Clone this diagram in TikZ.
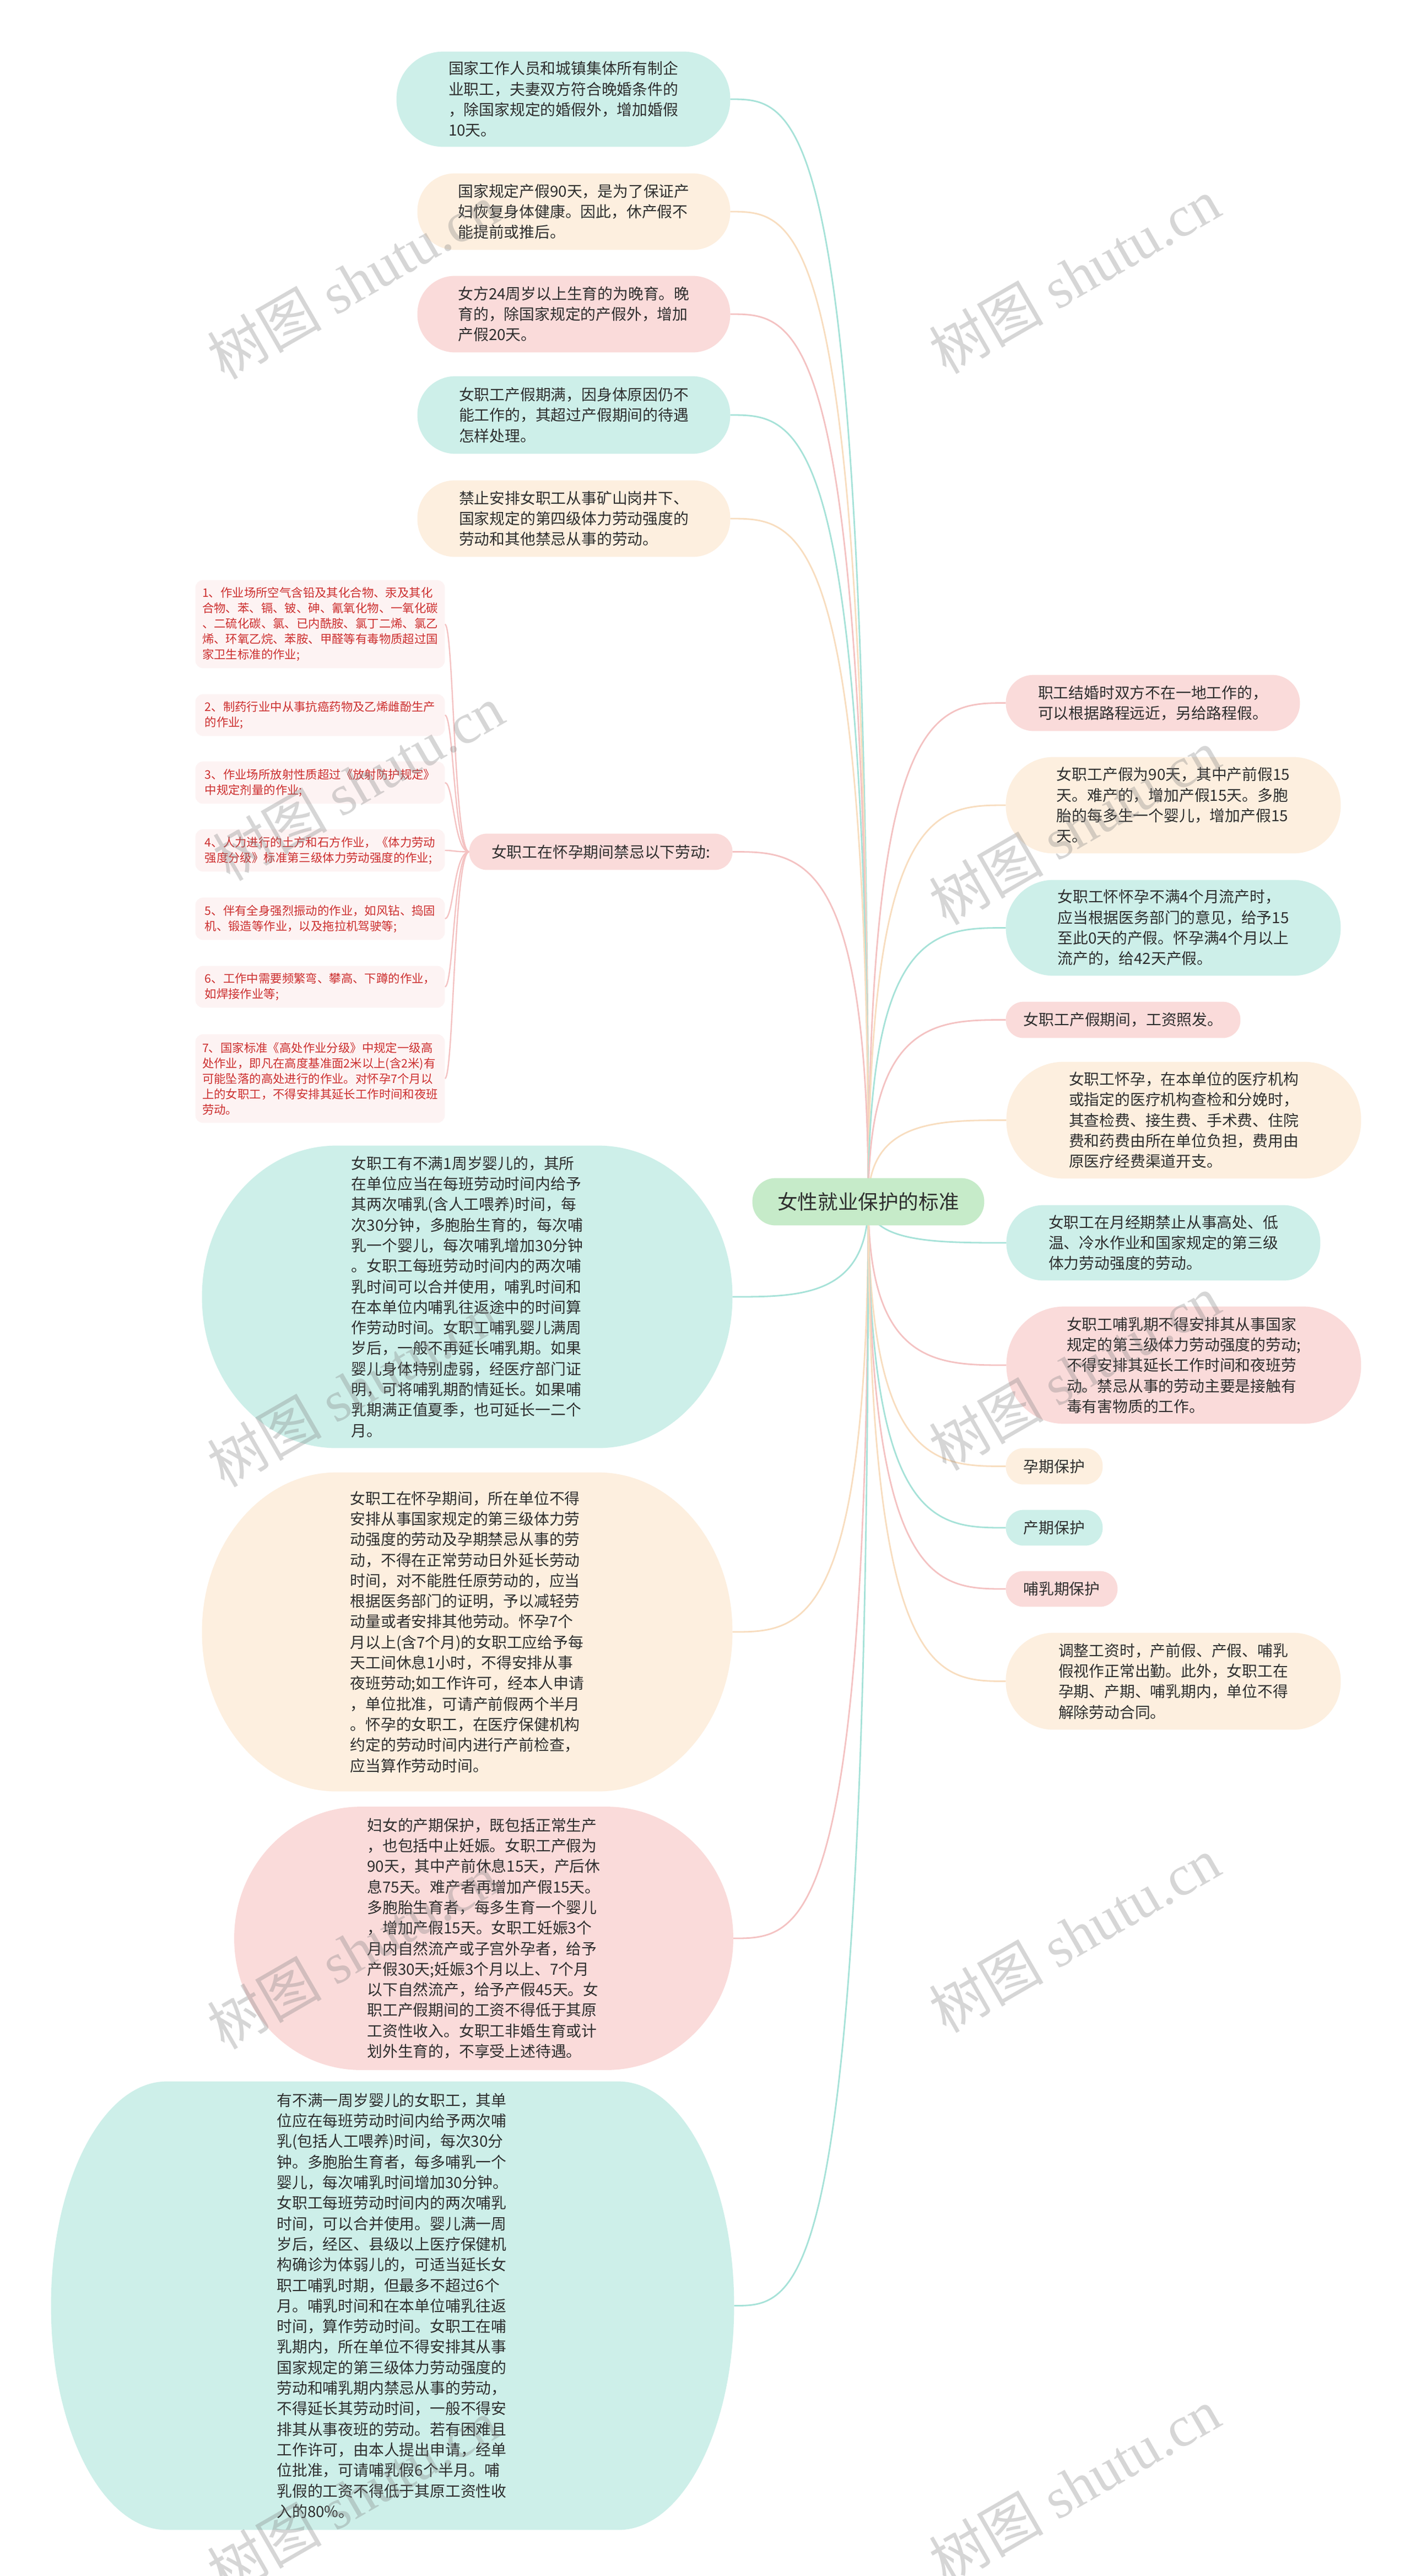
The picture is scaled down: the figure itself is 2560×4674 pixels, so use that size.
\documentclass[tikz,border=0pt]{standalone}
\usepackage{fontspec}
\setmainfont{Liberation Serif}
\newfontfamily\cjk{Noto Sans CJK SC}
\newfontfamily\wmlat{Liberation Serif}
\usetikzlibrary{calc,backgrounds}
\definecolor{tealF}{HTML}{CDEFE9}
\definecolor{creamF}{HTML}{FDEFDF}
\definecolor{pinkF}{HTML}{FADBDA}
\definecolor{rootF}{HTML}{C6EBC9}
\definecolor{itemF}{HTML}{FDF3F3}
\definecolor{tealL}{HTML}{A6E2D8}
\definecolor{creamL}{HTML}{F8DDBF}
\definecolor{pinkL}{HTML}{F4C2C2}
\definecolor{txt}{HTML}{2E2E2E}
\definecolor{redT}{HTML}{CC2E2E}
\tikzset{
  tx/.style={inner sep=0pt, align=left, text=txt, font=\cjk\fontsize{13.9pt}{18.65pt}\selectfont},
  lt/.style={inner sep=0pt, align=left, text=redT, font=\cjk\fontsize{10.7pt}{14pt}\selectfont},
  roottx/.style={inner sep=0pt, align=center, text=txt, font=\cjk\fontsize{18.3pt}{22pt}\selectfont},
  link/.style={line width=1.4pt},
  wm/.style={inner sep=0pt, text=black!50, opacity=0.32, rotate=30, font=\fontsize{52pt}{52pt}\selectfont}
}
\newcommand\ebg[4]{\fill[#2] ($(#1.north west)+(#3,0pt)$) -- ($(#1.north east)+(-#3,0pt)$) arc[start angle=90,end angle=0,x radius=#3,y radius=#4] -- ($(#1.south east)+(0pt,#4)$) arc[start angle=0,end angle=-90,x radius=#3,y radius=#4] -- ($(#1.south west)+(#3,0pt)$) arc[start angle=-90,end angle=-180,x radius=#3,y radius=#4] -- ($(#1.north west)+(0pt,-#4)$) arc[start angle=180,end angle=90,x radius=#3,y radius=#4] -- cycle;}
\newcommand\mmlink[3]{\draw[link,draw=#1] (#2) .. controls (#2 |- #3) and ($(#2 |- #3)!0.5!(#3)$) .. (#3);}
\newcommand\sublink[2]{\draw[link,draw=pinkL,line width=1.2pt] (#1) .. controls ($(#1)+(-28,0)$) and ($(#1 |- #2)+(-28,0)$) .. (#2);}
\begin{document}
\begin{tikzpicture}[x=0.5pt,y=-0.5pt]
\useasboundingbox (0,0) rectangle (2560,4674);
% root
\node[roottx, minimum width=210pt, minimum height=42.5pt] (root) at (1576,2180.5) {女性就业保护的标准};
% top-left nodes
\node[tx, minimum width=302.5pt, minimum height=86pt] (T1) at (1022.5,180) {国家工作人员和城镇集体所有制企\\业职工，夫妻双方符合晚婚条件的\\，除国家规定的婚假外，增加婚假\\10天。};
\node[tx, minimum width=283.5pt, minimum height=69pt] (T2) at (1041.5,384) {国家规定产假90天，是为了保证产\\妇恢复身体健康。因此，休产假不\\能提前或推后。};
\node[tx, minimum width=283.5pt, minimum height=69pt] (T3) at (1041.5,570) {女方24周岁以上生育的为晚育。晚\\育的，除国家规定的产假外，增加\\产假20天。};
\node[tx, minimum width=283.5pt, minimum height=70pt] (T4) at (1041.5,753) {女职工产假期满，因身体原因仍不\\能工作的，其超过产假期间的待遇\\怎样处理。};
\node[tx, minimum width=283.5pt, minimum height=69pt] (T5) at (1041.5,941) {禁止安排女职工从事矿山岗井下、\\国家规定的第四级体力劳动强度的\\劳动和其他禁忌从事的劳动。};
% list parent and items
\node[tx, minimum width=238.5pt, minimum height=32.5pt] (P) at (1090.5,1545.5) {女职工在怀孕期间禁忌以下劳动:};
\node[lt, minimum width=226pt, minimum height=79.5pt] (I1) at (581,1132.5) {1、作业场所空气含铅及其化合物、汞及其化\\合物、苯、镉、铍、砷、氰氧化物、一氧化碳\\、二硫化碳、氯、已内酰胺、氯丁二烯、氯乙\\烯、环氧乙烷、苯胺、甲醛等有毒物质超过国\\家卫生标准的作业;};
\node[lt, minimum width=226pt, minimum height=37.5pt] (I2) at (581,1297.5) {2、制药行业中从事抗癌药物及乙烯雌酚生产\\的作业;};
\node[lt, minimum width=226pt, minimum height=38pt] (I3) at (581,1420) {3、作业场所放射性质超过《放射防护规定》\\中规定剂量的作业;};
\node[lt, minimum width=226pt, minimum height=38pt] (I4) at (581,1543) {4、人力进行的土方和石方作业，《体力劳动\\强度分级》标准第三级体力劳动强度的作业;};
\node[lt, minimum width=226pt, minimum height=38pt] (I5) at (581,1667) {5、伴有全身强烈振动的作业，如风钻、捣固\\机、锻造等作业，以及拖拉机驾驶等;};
\node[lt, minimum width=226pt, minimum height=37.5pt] (I6) at (581,1790.5) {6、工作中需要频繁弯、攀高、下蹲的作业，\\如焊接作业等;};
\node[lt, minimum width=226pt, minimum height=80pt] (I7) at (581,1957) {7、国家标准《高处作业分级》中规定一级高\\处作业，即凡在高度基准面2米以上(含2米)有\\可能坠落的高处进行的作业。对怀孕7个月以\\上的女职工，不得安排其延长工作时间和夜班\\劳动。};
% big left nodes
\node[tx, minimum width=481pt, minimum height=274pt] (B1) at (848,2353) {女职工有不满1周岁婴儿的，其所\\在单位应当在每班劳动时间内给予\\其两次哺乳(含人工喂养)时间，每\\次30分钟，多胞胎生育的，每次哺\\乳一个婴儿，每次哺乳增加30分钟\\。女职工每班劳动时间内的两次哺\\乳时间可以合并使用，哺乳时间和\\在本单位内哺乳往返途中的时间算\\作劳动时间。女职工哺乳婴儿满周\\岁后，一般不再延长哺乳期。如果\\婴儿身体特别虚弱，经医疗部门证\\明，可将哺乳期酌情延长。如果哺\\乳期满正值夏季，也可延长一二个\\月。};
\node[tx, minimum width=481pt, minimum height=289pt] (B2) at (848,2961) {女职工在怀孕期间，所在单位不得\\安排从事国家规定的第三级体力劳\\动强度的劳动及孕期禁忌从事的劳\\动，不得在正常劳动日外延长劳动\\时间，对不能胜任原劳动的，应当\\根据医务部门的证明，予以减轻劳\\动量或者安排其他劳动。怀孕7个\\月以上(含7个月)的女职工应给予每\\天工间休息1小时，不得安排从事\\夜班劳动;如工作许可，经本人申请\\，单位批准，可请产前假两个半月\\。怀孕的女职工，在医疗保健机构\\约定的劳动时间内进行产前检查，\\应当算作劳动时间。};
\node[tx, minimum width=452.5pt, minimum height=238.5pt] (B3) at (878,3517) {妇女的产期保护，既包括正常生产\\，也包括中止妊娠。女职工产假为\\90天，其中产前休息15天，产后休\\息75天。难产者再增加产假15天。\\多胞胎生育者，每多生育一个婴儿\\，增加产假15天。女职工妊娠3个\\月内自然流产或子宫外孕者，给予\\产假30天;妊娠3个月以上、7个月\\以下自然流产，给予产假45天。女\\职工产假期间的工资不得低于其原\\工资性收入。女职工非婚生育或计\\划外生育的，不享受上述待遇。};
\node[tx, minimum width=619.5pt, minimum height=406.5pt] (B4) at (712.5,4183.5) {有不满一周岁婴儿的女职工，其单\\位应在每班劳动时间内给予两次哺\\乳(包括人工喂养)时间，每次30分\\钟。多胞胎生育者，每多哺乳一个\\婴儿，每次哺乳时间增加30分钟。\\女职工每班劳动时间内的两次哺乳\\时间，可以合并使用。婴儿满一周\\岁后，经区、县级以上医疗保健机\\构确诊为体弱儿的，可适当延长女\\职工哺乳时期，但最多不超过6个\\月。哺乳时间和在本单位哺乳往返\\时间，算作劳动时间。女职工在哺\\乳期内，所在单位不得安排其从事\\国家规定的第三级体力劳动强度的\\劳动和哺乳期内禁忌从事的劳动，\\不得延长其劳动时间，一般不得安\\排其从事夜班的劳动。若有困难且\\工作许可，由本人提出申请，经单\\位批准，可请哺乳假6个半月。哺\\乳假的工资不得低于其原工资性收\\入的80\%。};
% right nodes
\node[tx, minimum width=266.5pt, minimum height=50.5pt] (R1) at (2092.5,1275.5) {职工结婚时双方不在一地工作的，\\可以根据路程远近，另给路程假。};
\node[tx, minimum width=303.5pt, minimum height=87pt] (R2) at (2129.5,1461) {女职工产假为90天，其中产前假15\\天。难产的，增加产假15天。多胞\\胎的每多生一个婴儿，增加产假15\\天。};
\node[tx, minimum width=303.5pt, minimum height=86.5pt] (R3) at (2129.5,1683.5) {女职工怀怀孕不满4个月流产时，\\应当根据医务部门的意见，给予15\\至此0天的产假。怀孕满4个月以上\\流产的，给42天产假。};
\node[tx, minimum width=212.5pt, minimum height=32.5pt] (R4) at (2038.5,1850.5) {女职工产假期间，工资照发。};
\node[tx, minimum width=321.5pt, minimum height=105.5pt] (R5) at (2148.5,2032.5) {女职工怀孕，在本单位的医疗机构\\或指定的医疗机构查检和分娩时，\\其查检费、接生费、手术费、住院\\费和药费由所在单位负担，费用由\\原医疗经费渠道开支。};
\node[tx, minimum width=284.5pt, minimum height=68pt] (R6) at (2111.5,2255) {女职工在月经期禁止从事高处、低\\温、冷水作业和国家规定的第三级\\体力劳动强度的劳动。};
\node[tx, minimum width=321.5pt, minimum height=106pt] (R7) at (2148.5,2477) {女职工哺乳期不得安排其从事国家\\规定的第三级体力劳动强度的劳动;\\不得安排其延长工作时间和夜班劳\\动。禁忌从事的劳动主要是接触有\\毒有害物质的工作。};
\node[tx, minimum width=87.5pt, minimum height=32.5pt] (R8) at (1913.5,2660.5) {孕期保护};
\node[tx, minimum width=87.5pt, minimum height=32pt] (R9) at (1913.5,2772) {产期保护};
\node[tx, minimum width=101pt, minimum height=32pt] (R10) at (1927,2883) {哺乳期保护};
\node[tx, minimum width=303.5pt, minimum height=87.5pt] (R11) at (2129.5,3050.5) {调整工资时，产前假、产假、哺乳\\假视作正常出勤。此外，女职工在\\孕期、产期、哺乳期内，单位不得\\解除劳动合同。};
% background: connectors and fills
\begin{scope}[on background layer]
\fill[white] (0,0) rectangle (2560,4674);
\mmlink{tealL}{root.center}{T1.east}
\mmlink{creamL}{root.center}{T2.east}
\mmlink{pinkL}{root.center}{T3.east}
\mmlink{tealL}{root.center}{T4.east}
\mmlink{creamL}{root.center}{T5.east}
\mmlink{pinkL}{root.center}{P.east}
\mmlink{tealL}{root.center}{B1.east}
\mmlink{creamL}{root.center}{B2.east}
\mmlink{pinkL}{root.center}{B3.east}
\mmlink{tealL}{root.center}{B4.east}
\mmlink{pinkL}{root.center}{R1.west}
\mmlink{creamL}{root.center}{R2.west}
\mmlink{tealL}{root.center}{R3.west}
\mmlink{pinkL}{root.center}{R4.west}
\mmlink{creamL}{root.center}{R5.west}
\mmlink{tealL}{root.center}{R6.west}
\mmlink{pinkL}{root.center}{R7.west}
\mmlink{creamL}{root.center}{R8.west}
\mmlink{tealL}{root.center}{R9.west}
\mmlink{pinkL}{root.center}{R10.west}
\mmlink{creamL}{root.center}{R11.west}
\sublink{P.west}{I1.east}
\sublink{P.west}{I2.east}
\sublink{P.west}{I3.east}
\sublink{P.west}{I4.east}
\sublink{P.west}{I5.east}
\sublink{P.west}{I6.east}
\sublink{P.west}{I7.east}
\ebg{root}{rootF}{21pt}{21pt}
\ebg{T1}{tealF}{42.5pt}{42.5pt}
\ebg{T2}{creamF}{34pt}{34pt}
\ebg{T3}{pinkF}{34pt}{34pt}
\ebg{T4}{tealF}{34.5pt}{34.5pt}
\ebg{T5}{creamF}{34pt}{34pt}
\ebg{P}{pinkF}{16pt}{16pt}
\ebg{I1}{itemF}{7pt}{7pt}
\ebg{I2}{itemF}{7pt}{7pt}
\ebg{I3}{itemF}{7pt}{7pt}
\ebg{I4}{itemF}{7pt}{7pt}
\ebg{I5}{itemF}{7pt}{7pt}
\ebg{I6}{itemF}{7pt}{7pt}
\ebg{I7}{itemF}{7pt}{7pt}
\ebg{B1}{tealF}{122pt}{136.5pt}
\ebg{B2}{creamF}{122pt}{144pt}
\ebg{B3}{pinkF}{115pt}{119pt}
\ebg{B4}{tealF}{105pt}{203pt}
\ebg{R1}{pinkF}{25pt}{25pt}
\ebg{R2}{creamF}{43pt}{43pt}
\ebg{R3}{tealF}{43pt}{43pt}
\ebg{R4}{pinkF}{16pt}{16pt}
\ebg{R5}{creamF}{52pt}{52pt}
\ebg{R6}{tealF}{33.5pt}{33.5pt}
\ebg{R7}{pinkF}{52.5pt}{52.5pt}
\ebg{R8}{creamF}{16pt}{16pt}
\ebg{R9}{tealF}{16pt}{16pt}
\ebg{R10}{pinkF}{16pt}{16pt}
\ebg{R11}{creamF}{43pt}{43pt}
\end{scope}
% watermarks
\node[wm] (wm1) at (640,510) {{\cjk 树图} {\wmlat shutu.cn}};
\node[wm] (wm2) at (1950,500) {{\cjk 树图} {\wmlat shutu.cn}};
\node[wm] (wm3) at (650,1420) {{\cjk 树图} {\wmlat shutu.cn}};
\node[wm] (wm4) at (1950,1500) {{\cjk 树图} {\wmlat shutu.cn}};
\node[wm] (wm5) at (640,2520) {{\cjk 树图} {\wmlat shutu.cn}};
\node[wm] (wm6) at (1950,2490) {{\cjk 树图} {\wmlat shutu.cn}};
\node[wm] (wm7) at (640,3540) {{\cjk 树图} {\wmlat shutu.cn}};
\node[wm] (wm8) at (1950,3510) {{\cjk 树图} {\wmlat shutu.cn}};
\node[wm] (wm9) at (640,4530) {{\cjk 树图} {\wmlat shutu.cn}};
\node[wm] (wm10) at (1950,4510) {{\cjk 树图} {\wmlat shutu.cn}};
\end{tikzpicture}
\end{document}
